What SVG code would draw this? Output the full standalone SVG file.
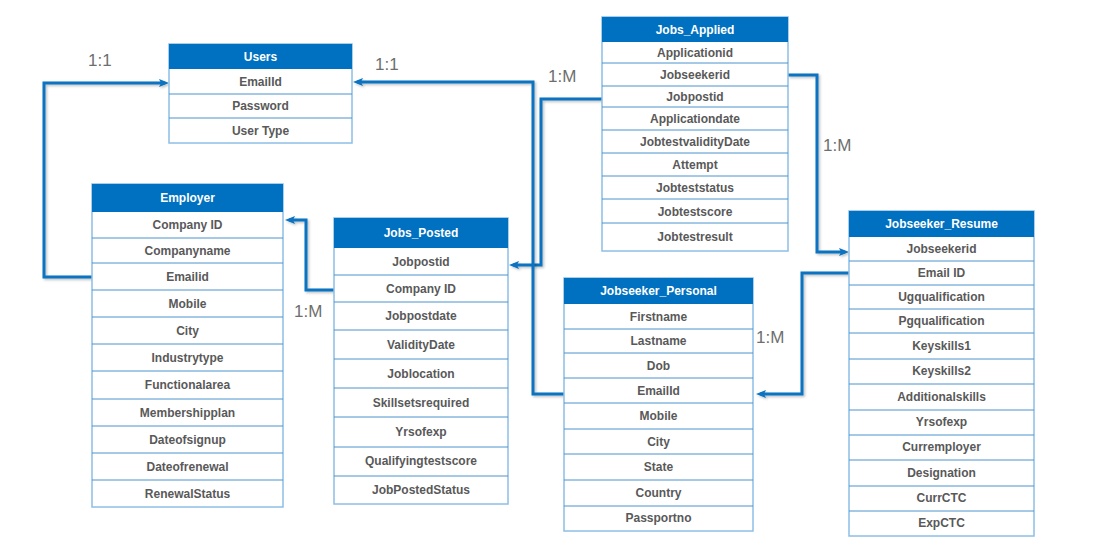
<svg xmlns="http://www.w3.org/2000/svg" width="1119" height="550" viewBox="0 0 1119 550">
<defs>
<style>
.hd{fill:#0070C0;}
.box{fill:#ffffff;stroke:#8DBFE6;stroke-width:1.5;}
.sep{stroke:#4A93CC;stroke-width:1;}
.ht{font-family:"Liberation Sans",Arial,sans-serif;font-weight:bold;font-size:12px;fill:#ffffff;text-anchor:middle;}
.rt{font-family:"Liberation Sans",Arial,sans-serif;font-weight:bold;font-size:12px;fill:#595959;text-anchor:middle;}
.lbl{font-family:"Liberation Sans",Arial,sans-serif;font-size:17px;fill:#6E6E6E;}
.con{fill:none;stroke:#0B73C0;stroke-width:3;filter:url(#sh);}
</style>
<filter id="sh" x="-10%" y="-10%" width="120%" height="120%">
<feDropShadow dx="1.5" dy="1.5" stdDeviation="1" flood-color="#000000" flood-opacity="0.25"/>
</filter>
<marker id="arr" markerUnits="userSpaceOnUse" markerWidth="12" markerHeight="10" refX="6" refY="4" orient="auto">
<path d="M0,0 L10,4 L0,8 L2,4 Z" fill="#0B73C0"/>
</marker>
</defs>
<rect width="1119" height="550" fill="#ffffff"/>

<g id="connectors">
<path class="con" d="M92,277 H44 V83 H165" marker-end="url(#arr)"/>
<path class="con" d="M334,290 H306 V220 H289" marker-end="url(#arr)"/>
<path class="con" d="M602,99 H541 V265 H513" marker-end="url(#arr)"/>
<path class="con" d="M564,394 H533 V82 H357" marker-end="url(#arr)"/>
<path class="con" d="M788,75 H817 V252 H845" marker-end="url(#arr)"/>
<path class="con" d="M849,273 H802 V394 H760" marker-end="url(#arr)"/>
<text class="lbl" x="88" y="66">1:1</text>
<text class="lbl" x="375" y="70">1:1</text>
<text class="lbl" x="548" y="82">1:M</text>
<text class="lbl" x="294" y="317">1:M</text>
<text class="lbl" x="823" y="151">1:M</text>
<text class="lbl" x="756" y="343">1:M</text>
</g>

<g id="users">
<rect class="box" x="169" y="44" width="183" height="99"/>
<rect class="hd" x="169" y="44" width="183" height="25"/>
<line class="sep" x1="169" y1="94" x2="352" y2="94"/>
<line class="sep" x1="169" y1="118" x2="352" y2="118"/>
<text class="ht" x="260.5" y="61">Users</text>
<text class="rt" x="260.5" y="86">EmailId</text>
<text class="rt" x="260.5" y="110">Password</text>
<text class="rt" x="260.5" y="135">User Type</text>
</g>

<g id="employer">
<rect class="box" x="92" y="184" width="191" height="323"/>
<rect class="hd" x="92" y="184" width="191" height="28"/>
<g class="sep">
<line x1="92" y1="238" x2="283" y2="238"/>
<line x1="92" y1="263" x2="283" y2="263"/>
<line x1="92" y1="290" x2="283" y2="290"/>
<line x1="92" y1="317" x2="283" y2="317"/>
<line x1="92" y1="344" x2="283" y2="344"/>
<line x1="92" y1="371" x2="283" y2="371"/>
<line x1="92" y1="399" x2="283" y2="399"/>
<line x1="92" y1="426" x2="283" y2="426"/>
<line x1="92" y1="453" x2="283" y2="453"/>
<line x1="92" y1="480" x2="283" y2="480"/>
</g>
<text class="ht" x="187.5" y="202">Employer</text>
<text class="rt" x="187.5" y="229">Company ID</text>
<text class="rt" x="187.5" y="255">Companyname</text>
<text class="rt" x="187.5" y="281">Emailid</text>
<text class="rt" x="187.5" y="308">Mobile</text>
<text class="rt" x="187.5" y="335">City</text>
<text class="rt" x="187.5" y="362">Industrytype</text>
<text class="rt" x="187.5" y="389">Functionalarea</text>
<text class="rt" x="187.5" y="417">Membershipplan</text>
<text class="rt" x="187.5" y="444">Dateofsignup</text>
<text class="rt" x="187.5" y="471">Dateofrenewal</text>
<text class="rt" x="187.5" y="498">RenewalStatus</text>
</g>

<g id="jobs_posted">
<rect class="box" x="334" y="218" width="174" height="286"/>
<rect class="hd" x="334" y="218" width="174" height="30"/>
<g class="sep">
<line x1="334" y1="275" x2="508" y2="275"/>
<line x1="334" y1="302" x2="508" y2="302"/>
<line x1="334" y1="330" x2="508" y2="330"/>
<line x1="334" y1="359" x2="508" y2="359"/>
<line x1="334" y1="388" x2="508" y2="388"/>
<line x1="334" y1="417" x2="508" y2="417"/>
<line x1="334" y1="447" x2="508" y2="447"/>
<line x1="334" y1="476" x2="508" y2="476"/>
</g>
<text class="ht" x="421" y="237">Jobs_Posted</text>
<text class="rt" x="421" y="266">Jobpostid</text>
<text class="rt" x="421" y="293">Company ID</text>
<text class="rt" x="421" y="320">Jobpostdate</text>
<text class="rt" x="421" y="349">ValidityDate</text>
<text class="rt" x="421" y="378">Joblocation</text>
<text class="rt" x="421" y="407">Skillsetsrequired</text>
<text class="rt" x="421" y="436">Yrsofexp</text>
<text class="rt" x="421" y="465">Qualifyingtestscore</text>
<text class="rt" x="421" y="494">JobPostedStatus</text>
</g>

<g id="jobs_applied">
<rect class="box" x="602" y="17" width="186" height="234"/>
<rect class="hd" x="602" y="17" width="186" height="25"/>
<g class="sep">
<line x1="602" y1="63" x2="788" y2="63"/>
<line x1="602" y1="86" x2="788" y2="86"/>
<line x1="602" y1="107" x2="788" y2="107"/>
<line x1="602" y1="130" x2="788" y2="130"/>
<line x1="602" y1="153" x2="788" y2="153"/>
<line x1="602" y1="176" x2="788" y2="176"/>
<line x1="602" y1="199" x2="788" y2="199"/>
<line x1="602" y1="223" x2="788" y2="223"/>
</g>
<text class="ht" x="695" y="34">Jobs_Applied</text>
<text class="rt" x="695" y="57">Applicationid</text>
<text class="rt" x="695" y="79">Jobseekerid</text>
<text class="rt" x="695" y="101">Jobpostid</text>
<text class="rt" x="695" y="123">Applicationdate</text>
<text class="rt" x="695" y="146">JobtestvalidityDate</text>
<text class="rt" x="695" y="169">Attempt</text>
<text class="rt" x="695" y="192">Jobteststatus</text>
<text class="rt" x="695" y="216">Jobtestscore</text>
<text class="rt" x="695" y="241">Jobtestresult</text>
</g>

<g id="jobseeker_personal">
<rect class="box" x="564" y="278" width="189" height="253"/>
<rect class="hd" x="564" y="278" width="189" height="26"/>
<g class="sep">
<line x1="564" y1="329" x2="753" y2="329"/>
<line x1="564" y1="353" x2="753" y2="353"/>
<line x1="564" y1="378" x2="753" y2="378"/>
<line x1="564" y1="403" x2="753" y2="403"/>
<line x1="564" y1="429" x2="753" y2="429"/>
<line x1="564" y1="454" x2="753" y2="454"/>
<line x1="564" y1="480" x2="753" y2="480"/>
<line x1="564" y1="506" x2="753" y2="506"/>
</g>
<text class="ht" x="658.5" y="295">Jobseeker_Personal</text>
<text class="rt" x="658.5" y="321">Firstname</text>
<text class="rt" x="658.5" y="345">Lastname</text>
<text class="rt" x="658.5" y="370">Dob</text>
<text class="rt" x="658.5" y="395">EmailId</text>
<text class="rt" x="658.5" y="420">Mobile</text>
<text class="rt" x="658.5" y="446">City</text>
<text class="rt" x="658.5" y="471">State</text>
<text class="rt" x="658.5" y="497">Country</text>
<text class="rt" x="658.5" y="522">Passportno</text>
</g>

<g id="jobseeker_resume">
<rect class="box" x="849" y="211" width="185" height="325"/>
<rect class="hd" x="849" y="211" width="185" height="26"/>
<g class="sep">
<line x1="849" y1="261" x2="1034" y2="261"/>
<line x1="849" y1="285" x2="1034" y2="285"/>
<line x1="849" y1="309" x2="1034" y2="309"/>
<line x1="849" y1="333" x2="1034" y2="333"/>
<line x1="849" y1="359" x2="1034" y2="359"/>
<line x1="849" y1="384" x2="1034" y2="384"/>
<line x1="849" y1="410" x2="1034" y2="410"/>
<line x1="849" y1="435" x2="1034" y2="435"/>
<line x1="849" y1="460" x2="1034" y2="460"/>
<line x1="849" y1="486" x2="1034" y2="486"/>
<line x1="849" y1="511" x2="1034" y2="511"/>
</g>
<text class="ht" x="941.5" y="228">Jobseeker_Resume</text>
<text class="rt" x="941.5" y="253">Jobseekerid</text>
<text class="rt" x="941.5" y="277">Email ID</text>
<text class="rt" x="941.5" y="301">Ugqualification</text>
<text class="rt" x="941.5" y="325">Pgqualification</text>
<text class="rt" x="941.5" y="350">Keyskills1</text>
<text class="rt" x="941.5" y="375">Keyskills2</text>
<text class="rt" x="941.5" y="401">Additionalskills</text>
<text class="rt" x="941.5" y="426">Yrsofexp</text>
<text class="rt" x="941.5" y="451">Curremployer</text>
<text class="rt" x="941.5" y="477">Designation</text>
<text class="rt" x="941.5" y="502">CurrCTC</text>
<text class="rt" x="941.5" y="527">ExpCTC</text>
</g>
</svg>
